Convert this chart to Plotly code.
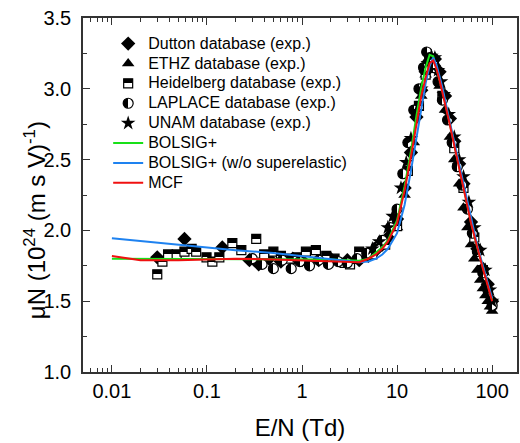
import plotly.graph_objects as go

# ---------------- data ----------------
dutton_x = [0.03, 0.058, 0.145, 0.28, 0.35, 0.45, 0.6, 0.8, 1.0, 1.5, 2.0, 3.0, 4.0, 5.0, 6.0, 7.0, 8.0,
            10.0, 12.0, 14.0, 16.0, 18.0, 20.0, 22.0, 25.0, 28.0, 32.0, 36.0, 40.0, 45.0, 50.0, 60.0,
            70.0, 80.0, 90.0, 100.0]
dutton_y = [1.81, 1.94, 1.88, 1.79, 1.76, 1.80, 1.78, 1.80, 1.79, 1.79, 1.80, 1.79, 1.79, 1.82, 1.86,
            1.90, 1.95, 2.08, 2.30, 2.55, 2.80, 2.99, 3.12, 3.20, 3.21, 3.12, 2.95, 2.79, 2.63, 2.47,
            2.33, 2.06, 1.87, 1.73, 1.62, 1.50]

ethz_x = [10, 12, 15, 18, 20, 22, 25, 28, 32, 36, 40, 45, 50, 55, 60, 65, 70, 75, 80, 85, 90, 95, 100]
ethz_y = [2.02, 2.25, 2.62, 2.95, 3.10, 3.20, 3.18, 3.02, 2.85, 2.66, 2.50, 2.33, 2.16, 2.02, 1.90,
          1.80, 1.72, 1.65, 1.59, 1.54, 1.50, 1.46, 1.43]

heid_x = [0.030, 0.034, 0.039, 0.048, 0.058, 0.069, 0.077, 0.099, 0.114, 0.135, 0.185, 0.23, 0.33,
          0.4, 0.5, 0.6, 0.75, 0.9, 1.1, 1.4, 1.8, 2.2, 2.8, 3.2, 4.0, 5.5, 7.5, 10, 13, 17, 20, 24,
          30, 40, 50, 65, 80, 100]
heid_y = [1.69, 1.78, 1.83, 1.83, 1.85, 1.87, 1.85, 1.81, 1.78, 1.81, 1.91, 1.86, 1.94, 1.83, 1.85,
          1.82, 1.80, 1.81, 1.85, 1.86, 1.82, 1.80, 1.77, 1.76, 1.85, 1.83, 1.90, 2.03, 2.42, 2.88,
          3.10, 3.19, 2.95, 2.58, 2.30, 1.95, 1.72, 1.48]

lapl_x = [0.3, 0.38, 0.5, 0.62, 0.77, 0.95, 1.2, 1.5, 1.9, 2.4, 3.0, 3.8, 4.8, 6.0, 7.0, 8.5, 10,
          11.5, 13, 15, 17, 19, 20.5, 22, 24, 27, 30, 34, 38, 43, 48, 55, 62, 70, 80, 90, 100]
lapl_y = [1.80, 1.76, 1.73, 1.79, 1.73, 1.78, 1.75, 1.79, 1.76, 1.78, 1.77, 1.80, 1.84, 1.88, 1.93,
          2.02, 2.15, 2.40, 2.62, 2.85, 3.00, 3.15, 3.26, 3.22, 3.15, 3.05, 2.92, 2.78, 2.62, 2.45,
          2.32, 2.15, 1.98, 1.85, 1.70, 1.58, 1.47]

unam_x = [5.5, 6.5, 8.0, 9.0, 11, 12.5, 14, 16, 18, 21, 23, 25, 27, 29, 31, 35, 40, 45, 50, 57, 65,
          75, 85, 95, 100]
unam_y = [1.87, 1.92, 2.02, 2.10, 2.30, 2.48, 2.65, 2.84, 3.00, 3.18, 3.23, 3.22, 3.13, 3.05, 2.96,
          2.82, 2.66, 2.50, 2.38, 2.20, 2.02, 1.86, 1.72, 1.58, 1.50]

curve_x = [0.01, 0.02, 0.05, 0.1, 0.2, 0.5, 1, 2, 3, 4, 5, 6, 7, 8, 10, 12, 14, 16, 18, 20, 22, 24,
           26, 28, 30, 35, 40, 45, 50, 60, 70, 80, 90, 100]
bolsig_y = [1.80, 1.80, 1.80, 1.80, 1.80, 1.80, 1.80, 1.795, 1.79, 1.785, 1.80, 1.84, 1.88, 1.93,
            2.07, 2.31, 2.56, 2.81, 3.01, 3.15, 3.24, 3.23, 3.15, 3.07, 2.99, 2.79, 2.61, 2.46,
            2.31, 2.06, 1.88, 1.74, 1.62, 1.51]
bolsig_nose_y = [1.945, 1.925, 1.90, 1.88, 1.86, 1.84, 1.82, 1.80, 1.785, 1.775, 1.78, 1.80, 1.83,
                 1.87, 1.98, 2.18, 2.42, 2.66, 2.88, 3.04, 3.16, 3.22, 3.17, 3.09, 3.01, 2.80, 2.62,
                 2.47, 2.33, 2.08, 1.89, 1.75, 1.63, 1.52]
mcf_y = [1.82, 1.79, 1.79, 1.795, 1.80, 1.795, 1.79, 1.785, 1.78, 1.775, 1.80, 1.83, 1.87, 1.92,
         2.05, 2.28, 2.52, 2.76, 2.95, 3.08, 3.18, 3.20, 3.14, 3.06, 2.98, 2.78, 2.60, 2.45, 2.30,
         2.05, 1.87, 1.73, 1.61, 1.50]

x_tickvals = [0.01, 0.1, 1, 10, 100]
x_ticktext = ["0.01", "0.1", "1", "10", "100"]
y_tickvals = [1.0, 1.5, 2.0, 2.5, 3.0, 3.5]
y_ticktext = ["1.0", "1.5", "2.0", "2.5", "3.0", "3.5"]

# ---------------- figure ----------------
FONT = "Liberation Sans, Arial, sans-serif"


def nm(s):
    return '<span style="font-size:16px">' + s + '</span>'


fig = go.Figure()

fig.add_trace(go.Scatter(x=dutton_x, y=dutton_y, mode="markers", name=nm("Dutton database (exp.)"),
                         marker=dict(symbol="diamond", size=11, color="black", line=dict(width=0))))
fig.add_trace(go.Scatter(x=ethz_x, y=ethz_y, mode="markers", name=nm("ETHZ database (exp.)"),
                         marker=dict(symbol="triangle-up", size=11, color="black", line=dict(width=0))))
fig.add_trace(go.Scatter(x=heid_x, y=heid_y, mode="markers", name=nm("Heidelberg database (exp.)"),
                         marker=dict(symbol="square", size=9, color="black",
                                     gradient=dict(type="vertical", color="white"),
                                     line=dict(width=1.2, color="black"))))
fig.add_trace(go.Scatter(x=lapl_x, y=lapl_y, mode="markers", name=nm("LAPLACE database (exp.)"),
                         marker=dict(symbol="circle", size=10, color="black",
                                     gradient=dict(type="horizontal", color="white"),
                                     line=dict(width=1.2, color="black"))))
fig.add_trace(go.Scatter(x=unam_x, y=unam_y, mode="markers", name=nm("UNAM database (exp.)"),
                         marker=dict(symbol="star", size=11, color="black", line=dict(width=0))))

fig.add_trace(go.Scatter(x=curve_x, y=bolsig_y, mode="lines", name=nm("BOLSIG+"),
                         line=dict(color="#18e018", width=2)))
fig.add_trace(go.Scatter(x=curve_x, y=bolsig_nose_y, mode="lines",
                         name=nm("BOLSIG+ (w/o superelastic)"),
                         line=dict(color="#1e82f0", width=2)))
fig.add_trace(go.Scatter(x=curve_x, y=mcf_y, mode="lines", name=nm("MCF"),
                         line=dict(color="#f01010", width=2)))

axis_common = dict(
    showline=True, linecolor="#333333", linewidth=1.6, mirror="allticks",
    ticks="inside", ticklen=7, tickwidth=1.2, tickcolor="#333333",
    showgrid=False, zeroline=False,
    tickfont=dict(family=FONT, size=20, color="black"),
)

fig.update_xaxes(type="log", range=[-2.304, 2.262], tickvals=x_tickvals, ticktext=x_ticktext,
                 minor=dict(ticks="inside", ticklen=4, tickwidth=1.2, tickcolor="#333333", dtick="D1"),
                 title=dict(text="E/N (Td)", font=dict(family=FONT, size=24, color="black"), standoff=18),
                 **axis_common)
fig.update_yaxes(range=[1.0, 3.5], tickvals=y_tickvals, ticktext=y_ticktext,
                 minor=dict(ticks="inside", ticklen=4, tickwidth=1.2, tickcolor="#333333", dtick=0.25),
                 ticklabelstandoff=6,
                 **axis_common)

fig.add_annotation(text="μN (10<sup>24</sup> (m s V)<sup>-1</sup>)", textangle=-90,
                   xref="paper", yref="paper", x=-0.112, y=0.43, xanchor="center", yanchor="middle",
                   showarrow=False, font=dict(family=FONT, size=24, color="black"))

fig.update_layout(
    width=520, height=443,
    margin=dict(l=83, r=1, t=18, b=71),
    paper_bgcolor="white", plot_bgcolor="white",
    font=dict(family=FONT, color="black"),
    legend=dict(x=0.058, y=0.97, xanchor="left", yanchor="top", bgcolor="rgba(0,0,0,0)",
                borderwidth=0, font=dict(family=FONT, size=13, color="black"), itemwidth=30),
    showlegend=True,
)

post = """
(function(){
  function sharpen(){
    var gs = document.querySelectorAll('linearGradient');
    gs.forEach(function(g){
      if (g.getAttribute('data-sharp')) return;
      var st = g.querySelectorAll('stop');
      if (st.length !== 2) return;
      var a = st[0], b = st[1];
      var a2 = a.cloneNode(true), b2 = b.cloneNode(true);
      a2.setAttribute('offset', '50%');
      b2.setAttribute('offset', '50%');
      g.insertBefore(a2, b);
      g.insertBefore(b2, b);
      g.setAttribute('data-sharp', '1');
    });
  }
  var gd = document.getElementById('{plot_id}');
  sharpen();
  setTimeout(sharpen, 50);
  if (gd && gd.on) gd.on('plotly_afterplot', function(){ setTimeout(sharpen, 0); });
})();
"""

fig.write_html("out.html", post_script=post)
